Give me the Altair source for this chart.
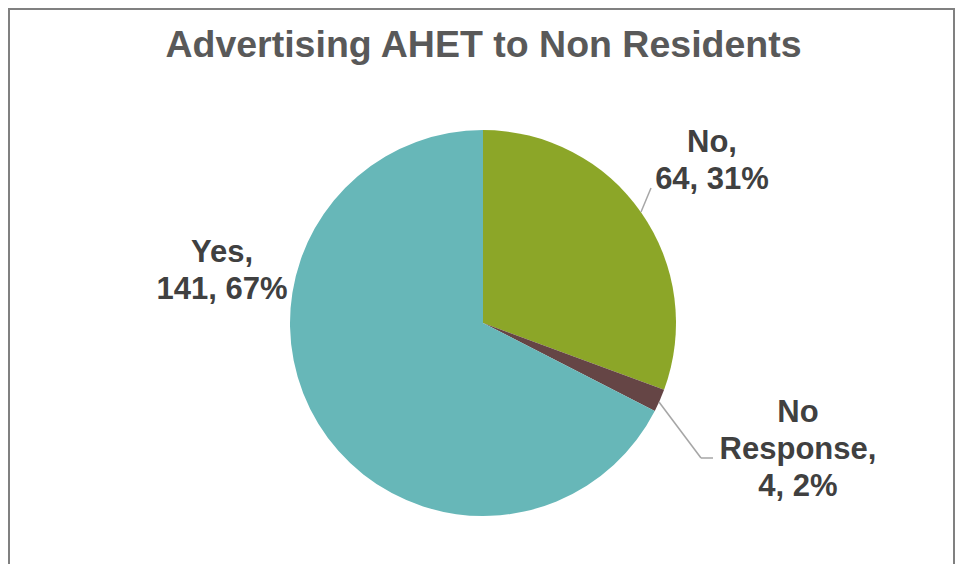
import altair as alt
import pandas as pd

# ---- data ----
title_text = "Advertising AHET to Non Residents"
categories = ["No", "No Response", "Yes"]
counts = [64, 4, 141]
slice_order = [0, 1, 2]
colors = ["#8CA628", "#654545", "#67B7B8"]

total = sum(counts)
pcts = [round(c * 100 / total) for c in counts]
labels = {
    "No": [f"{categories[0]},", f"{counts[0]}, {pcts[0]}%"],
    "No Response": ["No", "Response,", f"{counts[1]}, {pcts[1]}%"],
    "Yes": [f"{categories[2]},", f"{counts[2]}, {pcts[2]}%"],
}

df = pd.DataFrame({"category": categories, "count": counts, "order": slice_order})
one = pd.DataFrame({"k": [0]})

W, H = 947, 556
CX, CY, R = 475, 315, 193
LABEL_FONT = "Liberation Sans"
LABEL_COLOR = "#404040"
LS = 31

pie = alt.Chart(df).mark_arc(outerRadius=R).encode(
    theta=alt.Theta("count:Q", stack=True),
    order=alt.Order("order:Q"),
    color=alt.Color("category:N", scale=alt.Scale(domain=categories, range=colors), legend=None),
    x=alt.value(CX),
    y=alt.value(CY),
)

def text_layer(lines, x, y, size=LS, color=LABEL_COLOR):
    return alt.Chart(one).mark_text(
        font=LABEL_FONT, fontSize=size, fontWeight="bold", color=color,
        align="center", baseline="alphabetic", lineHeight=37,
    ).encode(x=alt.value(x), y=alt.value(y), text=alt.value(lines))

def rule(x1, y1, x2, y2, color="#A6A6A6", width=1.5):
    return alt.Chart(one).mark_rule(color=color, strokeWidth=width).encode(
        x=alt.value(x1), y=alt.value(y1), x2=alt.value(x2), y2=alt.value(y2)
    )

title = alt.Chart(one).mark_text(
    font=LABEL_FONT, fontSize=37.5, fontWeight="bold", color="#595959",
    align="center", baseline="alphabetic",
).encode(x=alt.value(475.5), y=alt.value(49), text=alt.value(title_text))

lab_no = text_layer(labels["No"], 704, 144)
lab_yes = text_layer(labels["Yes"], 214, 254)
lab_nr = text_layer(labels["No Response"], 790, 414)

lead_no = rule(633, 204, 643, 180)
lead_nr1 = rule(651, 394, 693, 450)
lead_nr2 = rule(693, 450, 705, 450)

border_l = rule(1, 0, 1, H, color="#808080", width=2)
border_t = rule(0, 1, W, 1, color="#808080", width=2)
border_r = rule(W - 1, 0, W - 1, H, color="#808080", width=2)

chart = alt.layer(
    pie, lead_no, lead_nr1, lead_nr2, lab_no, lab_yes, lab_nr, title,
    border_l, border_t, border_r,
).properties(
    width=W, height=H, padding=0, autosize=alt.AutoSizeParams(type="none"),
).configure_view(stroke=None)

chart.save("out.html", embed_options={"renderer": "svg", "actions": False})
